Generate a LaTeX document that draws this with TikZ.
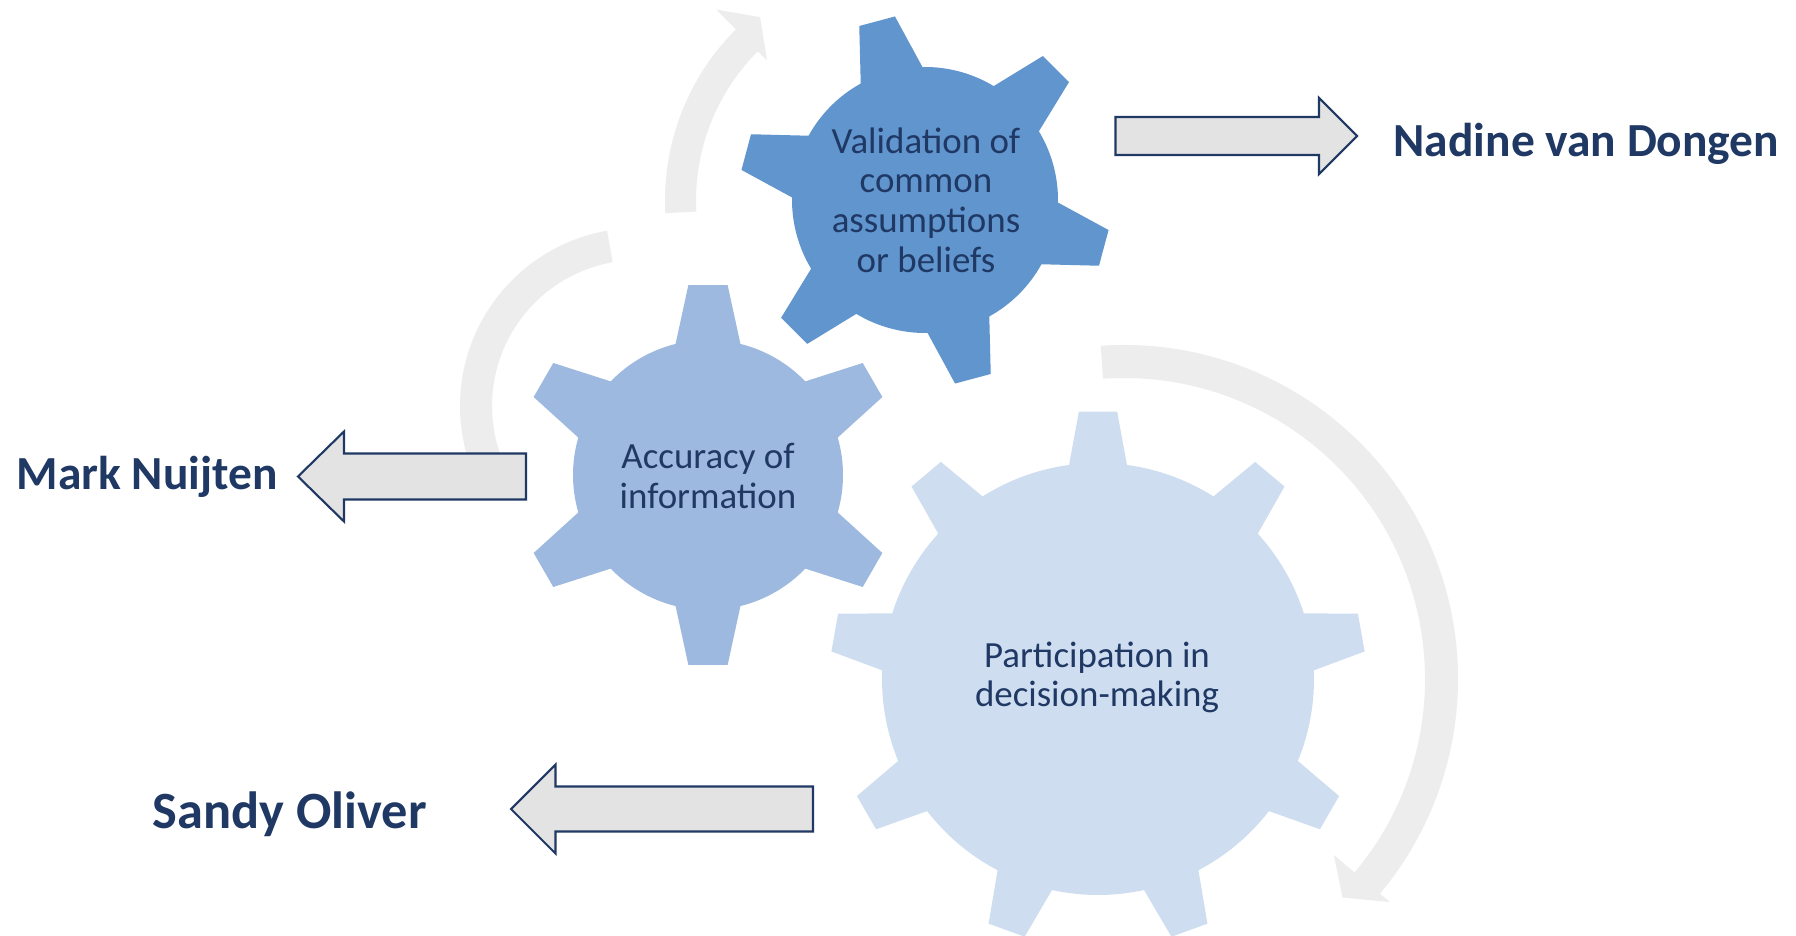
\documentclass[tikz,border=0pt]{standalone}
\usepackage{fontspec}
\setmainfont{Carlito}
\usetikzlibrary{calc}
\definecolor{GearBlue}{RGB}{97,149,206}
\definecolor{GearSky}{RGB}{157,185,223}
\definecolor{GearPale}{RGB}{206,221,240}
\definecolor{CycleGrey}{RGB}{237,237,237}
\definecolor{PointerGrey}{RGB}{227,227,227}
\definecolor{DeepNavy}{RGB}{31,56,100}

% gear: centre, teeth, body radius, tip radius, first tooth angle, half tip angle, half base angle, colour
\newcommand{\gearwheel}[8]{%
  \begin{scope}[shift={(#1)}]
    \fill[#8] ({#5-#7}:#3)
      \foreach \k in {1,...,#2} {
        -- ({#5+(\k-1)*360/#2-#6}:#4)
        -- ({#5+(\k-1)*360/#2+#6}:#4)
        -- ({#5+(\k-1)*360/#2+#7}:#3)
        arc[start angle={#5+(\k-1)*360/#2+#7}, end angle={#5+\k*360/#2-#7}, radius=#3]
      } -- cycle;
  \end{scope}}

\begin{document}
\begin{tikzpicture}[
    geartext/.style={font=\fontsize{10.5}{11.3}\selectfont, text=DeepNavy, align=center, inner sep=0pt},
    nametext/.style={font=\bfseries\fontsize{13.5}{16}\selectfont, text=DeepNavy, inner sep=0pt, anchor=base west},
    pointer/.style={draw=DeepNavy, fill=PointerGrey, line width=0.6pt},
    cyclearc/.style={fill=CycleGrey}]
    \path[use as bounding box, fill=white] (0,0) rectangle (17.96,-9.36);

    % Kreisbogen oben
    \begin{scope}[shift={(9.07,-2.005)}]
        \fill[cyclearc] (183:2.42) arc[start angle=183, end angle=135, radius=2.42]
            -- (135:2.70) -- (128.7:2.35) -- (135:1.98) -- (135:2.11)
            arc[start angle=135, end angle=183, radius=2.11] -- cycle;
    \end{scope}

    % Kreisbogen links
    \begin{scope}[shift={(6.38,-4.06)}]
        \fill[cyclearc] (100:1.78) arc[start angle=100, end angle=203, radius=1.78]
            -- (203:1.46) arc[start angle=203, end angle=100, radius=1.46] -- cycle;
    \end{scope}

    % Kreisbogen rechts
    \begin{scope}[shift={(11.24,-6.79)}]
        \fill[cyclearc] (94:3.34) arc[start angle=94, end angle=-40, radius=3.34]
            -- (-40:3.47) -- (-45:3.09) -- (-40:2.74) -- (-40:3.01)
            arc[start angle=-40, end angle=94, radius=3.01] -- cycle;
    \end{scope}

    % Zahnraeder
    \gearwheel{9.25,-2.00}{6}{1.33}{1.86}{45}{5.7}{13.9}{GearBlue}
    \gearwheel{7.08,-4.75}{6}{1.35}{1.91}{30}{5.9}{13.9}{GearSky}
    \gearwheel{10.98,-6.79}{9}{2.16}{2.68}{90}{4.1}{7.7}{GearPale}

    \node[geartext] (validation) at (9.26,-2.00) {Validation of\\common\\assumptions\\or beliefs};
    \node[geartext] (accuracy) at (7.08,-4.76) {Accuracy of\\information};
    \node[geartext] (participation) at (10.97,-6.775) {Participation in\\decision-making};

    % Blockpfeile
    \draw[pointer] (11.155,-1.17) -- (13.19,-1.17) -- (13.19,-0.98) -- (13.57,-1.36)
        -- (13.19,-1.74) -- (13.19,-1.55) -- (11.155,-1.55) -- cycle;
    \draw[pointer] (5.26,-4.535) -- (3.44,-4.535) -- (3.44,-4.315) -- (2.98,-4.765)
        -- (3.44,-5.215) -- (3.44,-4.995) -- (5.26,-4.995) -- cycle;
    \draw[pointer] (8.13,-7.865) -- (5.555,-7.865) -- (5.555,-7.645) -- (5.11,-8.09)
        -- (5.555,-8.535) -- (5.555,-8.315) -- (8.13,-8.315) -- cycle;

    % Namen
    \node[nametext] (nadine) at (13.93,-1.57) {Nadine van Dongen};
    \node[nametext] (mark) at (0.16,-4.90) {Mark Nuijten};
    \node[nametext, font=\bfseries\fontsize{14.9}{18}\selectfont] (sandy) at (1.52,-8.28) {Sandy Oliver};
\end{tikzpicture}
\end{document}
